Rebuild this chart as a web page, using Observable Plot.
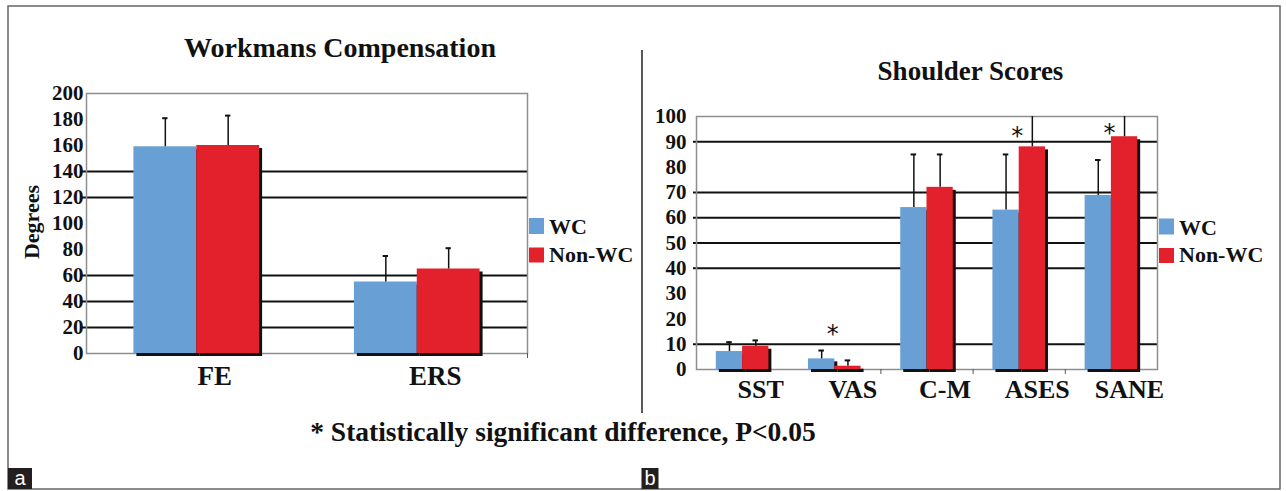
<!DOCTYPE html>
<html>
<head>
<meta charset="utf-8">
<script src="https://cdn.jsdelivr.net/npm/d3@7"></script>
<script src="https://cdn.jsdelivr.net/npm/@observablehq/plot@0.6"></script>
<style>
  html, body { margin: 0; padding: 0; background: #fff; }
  #root { position: relative; width: 1286px; height: 491px; background: #fff; overflow: hidden; }
  #deco { position: absolute; left: 0; top: 0; }
  #left { position: absolute; left: 0; top: 0; width: 640px; }
  #right { position: absolute; left: 640px; top: 0; width: 646px; }
</style>
</head>
<body>
<div id="root">
  <svg id="deco" width="1286" height="491"></svg>
  <div id="left"></div>
  <div id="right"></div>
</div>
<script>
// ---------- data ----------
const groups = ["WC", "Non-WC"];
const groupColors = ["#689fd5", "#e2212c"];

// Panel a: Workmans Compensation (degrees)
const leftCats = ["FE", "ERS"];
const leftWCMean = [159, 55];
const leftWCSd = [22, 20];
const leftNonWCMean = [160, 65];
const leftNonWCSd = [23, 16];
const leftYTicks = [0, 20, 40, 60, 80, 100, 120, 140, 160, 180, 200];
const leftGrid = [20, 40, 60, 120, 140];

// Panel b: Shoulder Scores
const rightCats = ["SST", "VAS", "C-M", "ASES", "SANE"];
const rightWCMean = [7.1, 4.2, 64, 63, 68.8];
const rightWCSd = [3.7, 3.3, 21, 22, 14];
const rightNonWCMean = [9.2, 1.3, 72, 88, 92];
const rightNonWCSd = [2.3, 2.3, 13, 15, 12];
const rightYTicks = [0, 10, 20, 30, 40, 50, 60, 70, 80, 90, 100];
const rightGrid = [10, 40, 50, 60, 70, 90];
const sigCats = ["VAS", "ASES", "SANE"];
const sigY = [16.2, 94.5, 95.6];

const caption = "* Statistically significant difference, P<0.05";

// ---------- helpers ----------
const SERIF = "'Liberation Serif', 'Times New Roman', Times, serif";
const barW = 0.285;

function buildRows(cats, wcM, wcS, nwM, nwS) {
  return cats.flatMap((c, i) => [
    {cat: c, i, group: "WC", mean: wcM[i], sd: wcS[i], x1: i - barW, x2: i, cx: i - barW / 2},
    {cat: c, i, group: "Non-WC", mean: nwM[i], sd: nwS[i], x1: i, x2: i + barW, cx: i + barW / 2}
  ]);
}

function panel(opts) {
  const {rows, cats, yDomain, yTicks, grid, gridInset, capHalf, width, height,
         mL, mR, mT, mB, yPad, yFont, xPad, xFont, xDx, boundaryTicks, extra, clip} = opts;
  return Plot.plot({
    width, height,
    marginLeft: mL, marginRight: mR, marginTop: mT, marginBottom: mB,
    x: {type: "linear", domain: [-0.5, cats.length - 0.5]},
    y: {domain: yDomain},
    color: {domain: groups, range: groupColors},
    style: {fontFamily: SERIF, fontWeight: "bold", background: "transparent", overflow: "visible", color: "#111"},
    marks: [
      Plot.ruleY(grid, {stroke: "#111", strokeWidth: 2, insetLeft: gridInset}),
      Plot.frame({stroke: "#8f8f8f", strokeWidth: 1.5}),
      Plot.rect(rows, {x1: "x1", x2: "x2", y1: 0, y2: "mean", fill: "#111", dx: 3, dy: 3}),
      Plot.rect(rows, {x1: "x1", x2: "x2", y1: 0, y2: "mean", fill: "group"}),
      Plot.ruleX(rows, {x: "cx", y1: "mean", y2: d => d.mean + d.sd, stroke: "#111", strokeWidth: 1.5, clip}),
      Plot.ruleY(rows, {y: d => d.mean + d.sd, x1: d => d.cx - capHalf, x2: d => d.cx + capHalf, stroke: "#111", strokeWidth: 2, clip}),
      Plot.axisY({ticks: yTicks, tickSize: 0, tickPadding: yPad, fontSize: yFont, label: null}),
      Plot.axisX({ticks: d3.range(cats.length), tickFormat: i => cats[i], tickSize: 0, tickPadding: xPad, fontSize: xFont, dx: xDx, label: null}),
      Plot.axisX({ticks: boundaryTicks, tickSize: 5, tickFormat: () => "", label: null, stroke: "#555"}),
      ...(extra || [])
    ]
  });
}

// ---------- panel a ----------
const leftRows = buildRows(leftCats, leftWCMean, leftWCSd, leftNonWCMean, leftNonWCSd);
document.getElementById("left").append(panel({
  rows: leftRows, cats: leftCats, yDomain: [0, 200], yTicks: leftYTicks, grid: leftGrid,
  gridInset: -5, capHalf: 0.012, width: 640, height: 400,
  mL: 86, mR: 113, mT: 93, mB: 47, yPad: 3, yFont: 21, xPad: 12, xFont: 27, xDx: 18,
  boundaryTicks: [1.5], clip: false
}));

// ---------- panel b ----------
const rightRows = buildRows(rightCats, rightWCMean, rightWCSd, rightNonWCMean, rightNonWCSd);
const sigData = sigCats.map((c, k) => ({i: rightCats.indexOf(c), y: sigY[k]}));
document.getElementById("right").append(panel({
  rows: rightRows, cats: rightCats, yDomain: [0, 100], yTicks: rightYTicks, grid: rightGrid,
  gridInset: -3, capHalf: 0.03, width: 646, height: 400,
  mL: 56, mR: 129, mT: 116, mB: 31, yPad: 10, yFont: 21, xPad: 10, xFont: 26, xDx: 18,
  boundaryTicks: [1.5, 2.5, 3.5], clip: true,
  extra: [Plot.text(sigData, {x: "i", y: "y", text: () => "*", fontSize: 24, fontWeight: "normal",
    fontFamily: "'DejaVu Sans', sans-serif", dx: -2, dy: 6, fill: "#111"})]
}));

// ---------- decorations: titles, legends, caption, panel letters ----------
const deco = d3.select("#deco");
deco.append("rect").attr("x", 8).attr("y", 6).attr("width", 1272).attr("height", 483)
  .attr("fill", "none").attr("stroke", "#666").attr("stroke-width", 1.5);
deco.append("line").attr("x1", 642).attr("x2", 642).attr("y1", 50).attr("y2", 413)
  .attr("stroke", "#222").attr("stroke-width", 1.5);

const txt = (x, y, s, size, anchor = "middle") => deco.append("text")
  .attr("x", x).attr("y", y).attr("text-anchor", anchor)
  .attr("font-family", SERIF).attr("font-weight", "bold").attr("font-size", size)
  .attr("fill", "#111").text(s);

txt(340, 57, "Workmans Compensation", 28);
txt(970.5, 80, "Shoulder Scores", 27);
txt(563, 441, caption, 27.5);
deco.append("text").attr("transform", "translate(39,222) rotate(-90)")
  .attr("text-anchor", "middle").attr("font-family", SERIF).attr("font-weight", "bold")
  .attr("font-size", 22).attr("fill", "#111").text("Degrees");

function legend(x, y0, y1) {
  deco.append("rect").attr("x", x).attr("y", y0).attr("width", 15).attr("height", 16).attr("fill", groupColors[0]);
  deco.append("rect").attr("x", x).attr("y", y1).attr("width", 15).attr("height", 15).attr("fill", groupColors[1]);
  txt(x + 20, y0 + 16, groups[0], 22, "start");
  txt(x + 20, y1 + 14, groups[1], 22, "start");
}
legend(529, 218, 247.5);
legend(1159, 218.5, 248);

function letter(x, w, s) {
  deco.append("rect").attr("x", x).attr("y", 468).attr("width", w).attr("height", 21).attr("fill", "#231f20");
  deco.append("text").attr("x", x + w / 2).attr("y", 485).attr("text-anchor", "middle")
    .attr("font-family", "'Liberation Sans', Arial, sans-serif").attr("font-size", 20)
    .attr("fill", "#fff").text(s);
}
letter(8, 24, "a");
letter(641.5, 17, "b");
</script>
</body>
</html>
